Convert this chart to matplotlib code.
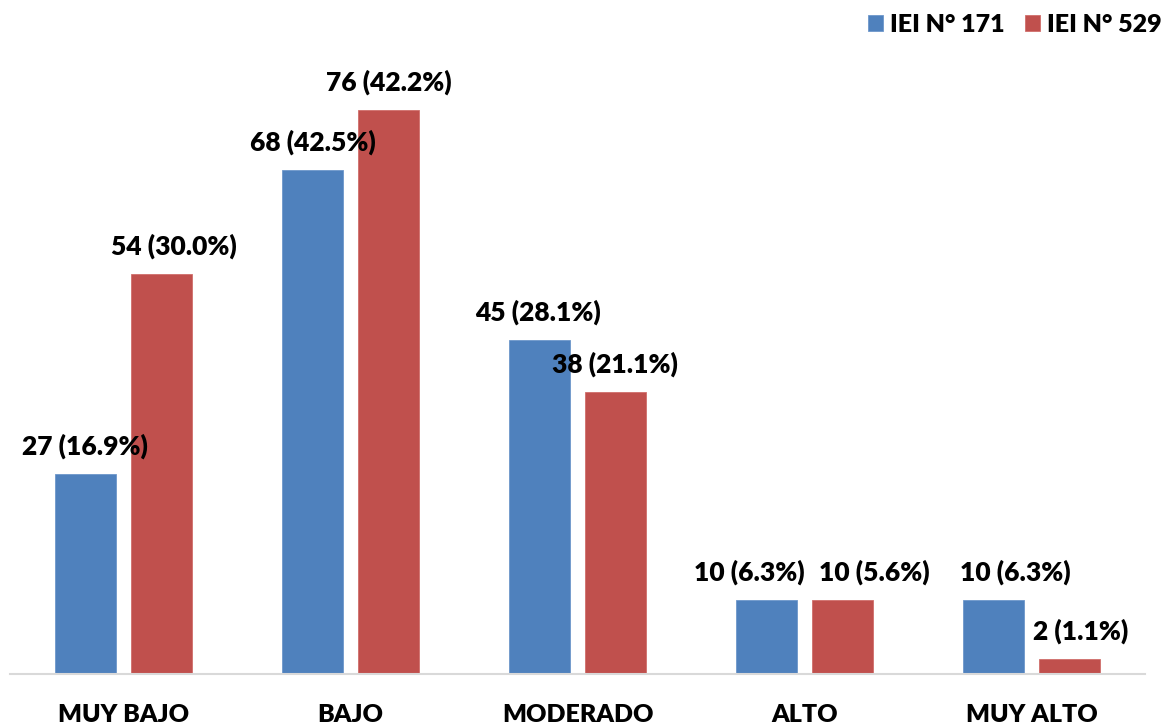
import matplotlib.pyplot as plt
import numpy as np

# Data
categories = ['MUY BAJO', 'BAJO', 'MODERADO', 'ALTO', 'MUY ALTO']
series_names = ['IEI N° 171', 'IEI N° 529']
counts_171 = [27, 68, 45, 10, 10]
pct_171 = [16.9, 42.5, 28.1, 6.3, 6.3]
counts_529 = [54, 76, 38, 10, 2]
pct_529 = [30.0, 42.2, 21.1, 5.6, 1.1]

# label nudges in pixels (hand-placed in the original)
dx_171 = [-1, 0, -2, -17, 22]
dx_529 = [12, 0, 0, 32, 11]

plt.rcParams['font.family'] = ['Lato', 'DejaVu Sans']
plt.rcParams['font.weight'] = 'heavy'

blue = '#4F81BD'
red = '#C0504D'

fig = plt.figure(figsize=(11.65, 7.28), dpi=100)
ax = fig.add_axes([10 / 1165, 54 / 728, 1135 / 1165, 634 / 728])

x = np.arange(len(categories))
w = 0.268
off = 0.167

b1 = ax.bar(x - off, counts_171, w, color=blue, edgecolor='#6D97CB', linewidth=0.6, label=series_names[0])
b2 = ax.bar(x + off, counts_529, w, color=red, edgecolor='#D06E6B', linewidth=0.6, label=series_names[1])

for xi, c, p, d in zip(x - off, counts_171, pct_171, dx_171):
    ax.annotate(f'{c} ({p:.1f}%)', (xi, c), xytext=(d * 0.72, 20),
                textcoords='offset points', ha='center', va='center',
                fontsize=19, fontweight='heavy', color='#000000')
for xi, c, p, d in zip(x + off, counts_529, pct_529, dx_529):
    ax.annotate(f'{c} ({p:.1f}%)', (xi, c), xytext=(d * 0.72, 20),
                textcoords='offset points', ha='center', va='center',
                fontsize=19, fontweight='heavy', color='#000000')

ax.set_xlim(-0.5, 4.5)
ax.set_ylim(0, 85.5)
ax.set_xticks(x)
ax.set_xticklabels(categories, fontsize=18, fontweight='heavy')
ax.tick_params(axis='x', length=0, pad=21.5)
ax.set_yticks([])
for s in ['top', 'right', 'left']:
    ax.spines[s].set_visible(False)
ax.spines['bottom'].set_color('#D9D9D9')
ax.spines['bottom'].set_linewidth(1.5)

fig.legend(handles=[b1, b2], labels=series_names, loc='upper right',
           bbox_to_anchor=(1162 / 1165, 1 - 14 / 728), ncol=2, frameon=False,
           prop={'weight': 'heavy', 'size': 18},
           handlelength=0.6, handleheight=0.6, handletextpad=0.3,
           columnspacing=0.8, borderpad=0, borderaxespad=0)

fig.savefig('out.png', dpi=100)
